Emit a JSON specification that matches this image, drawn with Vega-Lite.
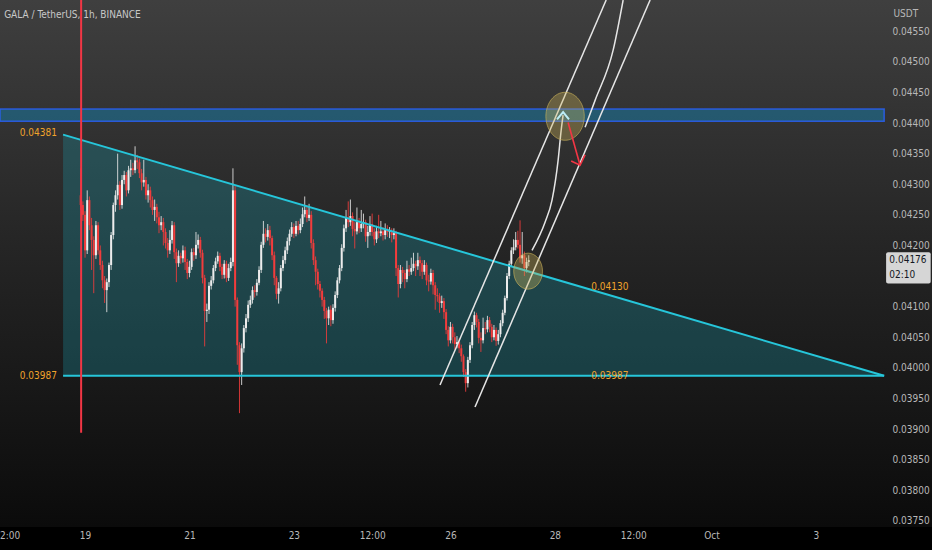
{
  "$schema": "https://vega.github.io/schema/vega-lite/v6.json",
  "width": 932,
  "height": 527,
  "autosize": "none",
  "padding": {"left": 0, "top": 0, "right": 0, "bottom": 23},
  "background": "#000000",
  "config": {
    "view": {"stroke": null},
    "scale": {"continuousPadding": 0},
    "axis": {"grid": false, "ticks": false, "domain": false, "labelColor": "#b8b8b8", "zindex": 2, "labelOverlap": false, "labelFlush": false},
    "axisY": {"labelOverlap": false, "labelFlush": false, "labelBound": false, "tickCount": 40}
  },
  "datasets": {
    "candles": [
      {"t":-2,"o":0.04282,"h":0.04326,"l":0.04258,"c":0.04266},
      {"t":-1,"o":0.04266,"h":0.04272,"l":0.04240,"c":0.04250},
      {"t":0,"o":0.04250,"h":0.04256,"l":0.04180,"c":0.04192},
      {"t":1,"o":0.04192,"h":0.04290,"l":0.04186,"c":0.04274},
      {"t":2,"o":0.04274,"h":0.04280,"l":0.04225,"c":0.04233},
      {"t":3,"o":0.04233,"h":0.04245,"l":0.04160,"c":0.04209},
      {"t":4,"o":0.04209,"h":0.04215,"l":0.04122,"c":0.04184},
      {"t":5,"o":0.04184,"h":0.04240,"l":0.04178,"c":0.04233},
      {"t":6,"o":0.04233,"h":0.04238,"l":0.04185,"c":0.04192},
      {"t":7,"o":0.04192,"h":0.04200,"l":0.04160,"c":0.04168},
      {"t":8,"o":0.04168,"h":0.04175,"l":0.04130,"c":0.04143},
      {"t":9,"o":0.04143,"h":0.04150,"l":0.04106,"c":0.04127},
      {"t":10,"o":0.04127,"h":0.04146,"l":0.04091,"c":0.04140},
      {"t":11,"o":0.04140,"h":0.04172,"l":0.04132,"c":0.04168},
      {"t":12,"o":0.04168,"h":0.04222,"l":0.04160,"c":0.04217},
      {"t":13,"o":0.04217,"h":0.04270,"l":0.04210,"c":0.04266},
      {"t":14,"o":0.04266,"h":0.04290,"l":0.04255,"c":0.04282},
      {"t":15,"o":0.04282,"h":0.04350,"l":0.04275,"c":0.04299},
      {"t":16,"o":0.04299,"h":0.04305,"l":0.04258,"c":0.04266},
      {"t":17,"o":0.04266,"h":0.04315,"l":0.04260,"c":0.04307},
      {"t":18,"o":0.04307,"h":0.04322,"l":0.04300,"c":0.04315},
      {"t":19,"o":0.04315,"h":0.04320,"l":0.04280,"c":0.04290},
      {"t":20,"o":0.04290,"h":0.04330,"l":0.04285,"c":0.04323},
      {"t":21,"o":0.04323,"h":0.04340,"l":0.04312,"c":0.04326},
      {"t":22,"o":0.04326,"h":0.04335,"l":0.04315,"c":0.04323},
      {"t":23,"o":0.04323,"h":0.04362,"l":0.04318,"c":0.04339},
      {"t":24,"o":0.04339,"h":0.04348,"l":0.04325,"c":0.04336},
      {"t":25,"o":0.04336,"h":0.04342,"l":0.04310,"c":0.04318},
      {"t":26,"o":0.04318,"h":0.04325,"l":0.04290,"c":0.04303},
      {"t":27,"o":0.04303,"h":0.04340,"l":0.04296,"c":0.04307},
      {"t":28,"o":0.04307,"h":0.04312,"l":0.04275,"c":0.04282},
      {"t":29,"o":0.04282,"h":0.04300,"l":0.04270,"c":0.04290},
      {"t":30,"o":0.04290,"h":0.04296,"l":0.04262,"c":0.04274},
      {"t":31,"o":0.04274,"h":0.04280,"l":0.04250,"c":0.04258},
      {"t":32,"o":0.04258,"h":0.04275,"l":0.04240,"c":0.04263},
      {"t":33,"o":0.04263,"h":0.04268,"l":0.04236,"c":0.04246},
      {"t":34,"o":0.04246,"h":0.04255,"l":0.04220,"c":0.04233},
      {"t":35,"o":0.04233,"h":0.04248,"l":0.04225,"c":0.04238},
      {"t":36,"o":0.04238,"h":0.04245,"l":0.04200,"c":0.04222},
      {"t":37,"o":0.04222,"h":0.04228,"l":0.04195,"c":0.04204},
      {"t":38,"o":0.04204,"h":0.04212,"l":0.04180,"c":0.04192},
      {"t":39,"o":0.04192,"h":0.04225,"l":0.04186,"c":0.04209},
      {"t":40,"o":0.04209,"h":0.04240,"l":0.04203,"c":0.04233},
      {"t":41,"o":0.04233,"h":0.04238,"l":0.04178,"c":0.04189},
      {"t":42,"o":0.04189,"h":0.04195,"l":0.04140,"c":0.04171},
      {"t":43,"o":0.04171,"h":0.04192,"l":0.04165,"c":0.04183},
      {"t":44,"o":0.04183,"h":0.04188,"l":0.04170,"c":0.04179},
      {"t":45,"o":0.04179,"h":0.04200,"l":0.04172,"c":0.04192},
      {"t":46,"o":0.04192,"h":0.04198,"l":0.04160,"c":0.04173},
      {"t":47,"o":0.04173,"h":0.04178,"l":0.04145,"c":0.04155},
      {"t":48,"o":0.04155,"h":0.04175,"l":0.04148,"c":0.04165},
      {"t":49,"o":0.04165,"h":0.04195,"l":0.04160,"c":0.04189},
      {"t":50,"o":0.04189,"h":0.04196,"l":0.04175,"c":0.04184},
      {"t":51,"o":0.04184,"h":0.04222,"l":0.04178,"c":0.04201},
      {"t":52,"o":0.04201,"h":0.04218,"l":0.04195,"c":0.04209},
      {"t":53,"o":0.04209,"h":0.04214,"l":0.04180,"c":0.04188},
      {"t":54,"o":0.04188,"h":0.04193,"l":0.04138,"c":0.04147},
      {"t":55,"o":0.04147,"h":0.04152,"l":0.04035,"c":0.04093},
      {"t":56,"o":0.04093,"h":0.04105,"l":0.04075,"c":0.04095},
      {"t":57,"o":0.04095,"h":0.04140,"l":0.04088,"c":0.04134},
      {"t":58,"o":0.04134,"h":0.04150,"l":0.04128,"c":0.04143},
      {"t":59,"o":0.04143,"h":0.04168,"l":0.04138,"c":0.04163},
      {"t":60,"o":0.04163,"h":0.04180,"l":0.04158,"c":0.04174},
      {"t":61,"o":0.04174,"h":0.04190,"l":0.04170,"c":0.04183},
      {"t":62,"o":0.04183,"h":0.04188,"l":0.04158,"c":0.04165},
      {"t":63,"o":0.04165,"h":0.04170,"l":0.04145,"c":0.04152},
      {"t":64,"o":0.04152,"h":0.04176,"l":0.04146,"c":0.04170},
      {"t":65,"o":0.04170,"h":0.04175,"l":0.04140,"c":0.04147},
      {"t":66,"o":0.04147,"h":0.04170,"l":0.04142,"c":0.04163},
      {"t":67,"o":0.04163,"h":0.04180,"l":0.04158,"c":0.04173},
      {"t":68,"o":0.04173,"h":0.04326,"l":0.04166,"c":0.04290},
      {"t":69,"o":0.04290,"h":0.04297,"l":0.04100,"c":0.04111},
      {"t":70,"o":0.04111,"h":0.04115,"l":0.04005,"c":0.04037},
      {"t":71,"o":0.04037,"h":0.04042,"l":0.03926,"c":0.03993},
      {"t":72,"o":0.03993,"h":0.04040,"l":0.03972,"c":0.04032},
      {"t":73,"o":0.04032,"h":0.04070,"l":0.04025,"c":0.04065},
      {"t":74,"o":0.04065,"h":0.04088,"l":0.04058,"c":0.04081},
      {"t":75,"o":0.04081,"h":0.04110,"l":0.04075,"c":0.04103},
      {"t":76,"o":0.04103,"h":0.04118,"l":0.04098,"c":0.04111},
      {"t":77,"o":0.04111,"h":0.04133,"l":0.04105,"c":0.04127},
      {"t":78,"o":0.04127,"h":0.04135,"l":0.04115,"c":0.04124},
      {"t":79,"o":0.04124,"h":0.04145,"l":0.04118,"c":0.04139},
      {"t":80,"o":0.04139,"h":0.04166,"l":0.04135,"c":0.04160},
      {"t":81,"o":0.04160,"h":0.04206,"l":0.04155,"c":0.04201},
      {"t":82,"o":0.04201,"h":0.04240,"l":0.04196,"c":0.04219},
      {"t":83,"o":0.04219,"h":0.04228,"l":0.04205,"c":0.04214},
      {"t":84,"o":0.04214,"h":0.04235,"l":0.04208,"c":0.04225},
      {"t":85,"o":0.04225,"h":0.04232,"l":0.04200,"c":0.04212},
      {"t":86,"o":0.04212,"h":0.04216,"l":0.04176,"c":0.04184},
      {"t":87,"o":0.04184,"h":0.04190,"l":0.04135,"c":0.04147},
      {"t":88,"o":0.04147,"h":0.04150,"l":0.04112,"c":0.04121},
      {"t":89,"o":0.04121,"h":0.04140,"l":0.04105,"c":0.04130},
      {"t":90,"o":0.04130,"h":0.04168,"l":0.04125,"c":0.04163},
      {"t":91,"o":0.04163,"h":0.04183,"l":0.04158,"c":0.04176},
      {"t":92,"o":0.04176,"h":0.04198,"l":0.04170,"c":0.04192},
      {"t":93,"o":0.04192,"h":0.04213,"l":0.04186,"c":0.04207},
      {"t":94,"o":0.04207,"h":0.04226,"l":0.04200,"c":0.04219},
      {"t":95,"o":0.04219,"h":0.04238,"l":0.04214,"c":0.04230},
      {"t":96,"o":0.04230,"h":0.04236,"l":0.04212,"c":0.04219},
      {"t":97,"o":0.04219,"h":0.04240,"l":0.04215,"c":0.04232},
      {"t":98,"o":0.04232,"h":0.04240,"l":0.04218,"c":0.04225},
      {"t":99,"o":0.04225,"h":0.04244,"l":0.04220,"c":0.04235},
      {"t":100,"o":0.04235,"h":0.04262,"l":0.04230,"c":0.04251},
      {"t":101,"o":0.04251,"h":0.04280,"l":0.04246,"c":0.04258},
      {"t":102,"o":0.04258,"h":0.04266,"l":0.04238,"c":0.04245},
      {"t":103,"o":0.04245,"h":0.04268,"l":0.04240,"c":0.04250},
      {"t":104,"o":0.04250,"h":0.04256,"l":0.04195,"c":0.04204},
      {"t":105,"o":0.04204,"h":0.04210,"l":0.04168,"c":0.04176},
      {"t":106,"o":0.04176,"h":0.04182,"l":0.04135,"c":0.04157},
      {"t":107,"o":0.04157,"h":0.04162,"l":0.04128,"c":0.04137},
      {"t":108,"o":0.04137,"h":0.04142,"l":0.04115,"c":0.04126},
      {"t":109,"o":0.04126,"h":0.04130,"l":0.04100,"c":0.04111},
      {"t":110,"o":0.04111,"h":0.04116,"l":0.04080,"c":0.04093},
      {"t":111,"o":0.04093,"h":0.04098,"l":0.04040,"c":0.04081},
      {"t":112,"o":0.04081,"h":0.04100,"l":0.04070,"c":0.04095},
      {"t":113,"o":0.04095,"h":0.04102,"l":0.04068,"c":0.04078},
      {"t":114,"o":0.04078,"h":0.04104,"l":0.04072,"c":0.04098},
      {"t":115,"o":0.04098,"h":0.04125,"l":0.04092,"c":0.04119},
      {"t":116,"o":0.04119,"h":0.04148,"l":0.04114,"c":0.04143},
      {"t":117,"o":0.04143,"h":0.04168,"l":0.04138,"c":0.04163},
      {"t":118,"o":0.04163,"h":0.04202,"l":0.04158,"c":0.04196},
      {"t":119,"o":0.04196,"h":0.04234,"l":0.04190,"c":0.04228},
      {"t":120,"o":0.04228,"h":0.04258,"l":0.04222,"c":0.04245},
      {"t":121,"o":0.04245,"h":0.04272,"l":0.04230,"c":0.04238},
      {"t":122,"o":0.04238,"h":0.04275,"l":0.04232,"c":0.04248},
      {"t":123,"o":0.04248,"h":0.04254,"l":0.04215,"c":0.04227},
      {"t":124,"o":0.04227,"h":0.04238,"l":0.04195,"c":0.04223},
      {"t":125,"o":0.04223,"h":0.04262,"l":0.04218,"c":0.04238},
      {"t":126,"o":0.04238,"h":0.04245,"l":0.04220,"c":0.04228},
      {"t":127,"o":0.04228,"h":0.04258,"l":0.04222,"c":0.04235},
      {"t":128,"o":0.04235,"h":0.04252,"l":0.04228,"c":0.04238},
      {"t":129,"o":0.04238,"h":0.04242,"l":0.04206,"c":0.04215},
      {"t":130,"o":0.04215,"h":0.04232,"l":0.04196,"c":0.04222},
      {"t":131,"o":0.04222,"h":0.04248,"l":0.04216,"c":0.04235},
      {"t":132,"o":0.04235,"h":0.04252,"l":0.04215,"c":0.04222},
      {"t":133,"o":0.04222,"h":0.04228,"l":0.04200,"c":0.04210},
      {"t":134,"o":0.04210,"h":0.04232,"l":0.04204,"c":0.04223},
      {"t":135,"o":0.04223,"h":0.04250,"l":0.04212,"c":0.04220},
      {"t":136,"o":0.04220,"h":0.04240,"l":0.04215,"c":0.04223},
      {"t":137,"o":0.04223,"h":0.04230,"l":0.04208,"c":0.04217},
      {"t":138,"o":0.04217,"h":0.04236,"l":0.04210,"c":0.04225},
      {"t":139,"o":0.04225,"h":0.04233,"l":0.04214,"c":0.04222},
      {"t":140,"o":0.04222,"h":0.04230,"l":0.04212,"c":0.04223},
      {"t":141,"o":0.04223,"h":0.04228,"l":0.04205,"c":0.04217},
      {"t":142,"o":0.04217,"h":0.04228,"l":0.04210,"c":0.04220},
      {"t":143,"o":0.04220,"h":0.04224,"l":0.04150,"c":0.04163},
      {"t":144,"o":0.04163,"h":0.04168,"l":0.04115,"c":0.04137},
      {"t":145,"o":0.04137,"h":0.04168,"l":0.04130,"c":0.04160},
      {"t":146,"o":0.04160,"h":0.04165,"l":0.04140,"c":0.04155},
      {"t":147,"o":0.04155,"h":0.04160,"l":0.04130,"c":0.04145},
      {"t":148,"o":0.04145,"h":0.04175,"l":0.04140,"c":0.04161},
      {"t":149,"o":0.04161,"h":0.04168,"l":0.04150,"c":0.04157},
      {"t":150,"o":0.04157,"h":0.04180,"l":0.04152,"c":0.04163},
      {"t":151,"o":0.04163,"h":0.04188,"l":0.04158,"c":0.04170},
      {"t":152,"o":0.04170,"h":0.04175,"l":0.04150,"c":0.04166},
      {"t":153,"o":0.04166,"h":0.04188,"l":0.04160,"c":0.04176},
      {"t":154,"o":0.04176,"h":0.04182,"l":0.04150,"c":0.04171},
      {"t":155,"o":0.04171,"h":0.04176,"l":0.04145,"c":0.04157},
      {"t":156,"o":0.04157,"h":0.04176,"l":0.04152,"c":0.04168},
      {"t":157,"o":0.04168,"h":0.04172,"l":0.04135,"c":0.04143},
      {"t":158,"o":0.04143,"h":0.04152,"l":0.04125,"c":0.04141},
      {"t":159,"o":0.04141,"h":0.04162,"l":0.04136,"c":0.04155},
      {"t":160,"o":0.04155,"h":0.04160,"l":0.04120,"c":0.04135},
      {"t":161,"o":0.04135,"h":0.04140,"l":0.04095,"c":0.04119},
      {"t":162,"o":0.04119,"h":0.04130,"l":0.04108,"c":0.04117},
      {"t":163,"o":0.04117,"h":0.04122,"l":0.04090,"c":0.04106},
      {"t":164,"o":0.04106,"h":0.04118,"l":0.04098,"c":0.04109},
      {"t":165,"o":0.04109,"h":0.04114,"l":0.04080,"c":0.04091},
      {"t":166,"o":0.04091,"h":0.04096,"l":0.04055,"c":0.04062},
      {"t":167,"o":0.04062,"h":0.04068,"l":0.04035,"c":0.04045},
      {"t":168,"o":0.04045,"h":0.04075,"l":0.04040,"c":0.04067},
      {"t":169,"o":0.04067,"h":0.04072,"l":0.04040,"c":0.04050},
      {"t":170,"o":0.04050,"h":0.04058,"l":0.04030,"c":0.04039},
      {"t":171,"o":0.04039,"h":0.04052,"l":0.04032,"c":0.04042},
      {"t":172,"o":0.04042,"h":0.04048,"l":0.04024,"c":0.04032},
      {"t":173,"o":0.04032,"h":0.04038,"l":0.04010,"c":0.04019},
      {"t":174,"o":0.04019,"h":0.04022,"l":0.03985,"c":0.03993},
      {"t":175,"o":0.03993,"h":0.03998,"l":0.03961,"c":0.03975},
      {"t":176,"o":0.03975,"h":0.04018,"l":0.03968,"c":0.04013},
      {"t":177,"o":0.04013,"h":0.04042,"l":0.04008,"c":0.04037},
      {"t":178,"o":0.04037,"h":0.04075,"l":0.04032,"c":0.04070},
      {"t":179,"o":0.04070,"h":0.04092,"l":0.04062,"c":0.04086},
      {"t":180,"o":0.04086,"h":0.04090,"l":0.04066,"c":0.04075},
      {"t":181,"o":0.04075,"h":0.04080,"l":0.04040,"c":0.04049},
      {"t":182,"o":0.04049,"h":0.04058,"l":0.04026,"c":0.04045},
      {"t":183,"o":0.04045,"h":0.04082,"l":0.04040,"c":0.04065},
      {"t":184,"o":0.04065,"h":0.04075,"l":0.04055,"c":0.04063},
      {"t":185,"o":0.04063,"h":0.04085,"l":0.04058,"c":0.04078},
      {"t":186,"o":0.04078,"h":0.04083,"l":0.04058,"c":0.04067},
      {"t":187,"o":0.04067,"h":0.04072,"l":0.04042,"c":0.04050},
      {"t":188,"o":0.04050,"h":0.04070,"l":0.04045,"c":0.04062},
      {"t":189,"o":0.04062,"h":0.04066,"l":0.04036,"c":0.04044},
      {"t":190,"o":0.04044,"h":0.04062,"l":0.04038,"c":0.04055},
      {"t":191,"o":0.04055,"h":0.04078,"l":0.04050,"c":0.04073},
      {"t":192,"o":0.04073,"h":0.04095,"l":0.04068,"c":0.04090},
      {"t":193,"o":0.04090,"h":0.04118,"l":0.04086,"c":0.04114},
      {"t":194,"o":0.04114,"h":0.04155,"l":0.04110,"c":0.04150},
      {"t":195,"o":0.04150,"h":0.04175,"l":0.04145,"c":0.04170},
      {"t":196,"o":0.04170,"h":0.04197,"l":0.04165,"c":0.04192},
      {"t":197,"o":0.04192,"h":0.04210,"l":0.04186,"c":0.04197},
      {"t":198,"o":0.04197,"h":0.04222,"l":0.04192,"c":0.04209},
      {"t":199,"o":0.04209,"h":0.04224,"l":0.04195,"c":0.04201},
      {"t":200,"o":0.04201,"h":0.04241,"l":0.04172,"c":0.04179},
      {"t":201,"o":0.04179,"h":0.04222,"l":0.04170,"c":0.04184},
      {"t":202,"o":0.04184,"h":0.04190,"l":0.04150,"c":0.04163},
      {"t":203,"o":0.04163,"h":0.04180,"l":0.04156,"c":0.04173},
      {"t":204,"o":0.04173,"h":0.04184,"l":0.04166,"c":0.04176}
    ],
    "drawLines": [
      {"g":"A","t":163.2,"p":0.03972},
      {"g":"A","t":239.6,"p":0.04601},
      {"g":"B","t":179.3,"p":0.03936},
      {"g":"B","t":259.8,"p":0.04601},
      {"g":"S","t":205.5,"p":0.04192},
      {"g":"S","t":211.5,"p":0.04238},
      {"g":"S","t":214.7,"p":0.04274},
      {"g":"S","t":217.5,"p":0.04339},
      {"g":"S","t":218.9,"p":0.04388},
      {"g":"S","t":219.8,"p":0.04413},
      {"g":"C","t":229.9,"p":0.04393},
      {"g":"C","t":234.5,"p":0.04437},
      {"g":"C","t":242.8,"p":0.04519},
      {"g":"C","t":247.4,"p":0.04601}
    ]
  },
  "layer": [
    {
      "data": {"values": [{}]},
      "mark": {
        "type": "rect",
        "color": {
          "gradient": "linear", "x1": 0, "y1": 0, "x2": 0, "y2": 1,
          "stops": [
            {"offset": 0, "color": "#3f3f3f"},
            {"offset": 0.45, "color": "#262626"},
            {"offset": 1, "color": "#0b0b0b"}
          ]
        }
      },
      "encoding": {}
    },
    {
      "data": {"name": "candles"},
      "mark": {"type": "rule", "strokeWidth": 1, "opacity": 0},
      "encoding": {
        "x": {
          "field": "t", "type": "quantitative",
          "scale": {"domain": [-39.1, 389.4], "nice": false, "zero": false, "padding": 0},
          "axis": {
            "values": [-36, 0, 48, 96, 132, 168, 216, 252, 288, 336],
            "labelExpr": "datum.value == -36 ? '12:00' : datum.value == 0 ? '19' : datum.value == 48 ? '21' : datum.value == 96 ? '23' : datum.value == 132 ? '12:00' : datum.value == 168 ? '26' : datum.value == 216 ? '28' : datum.value == 252 ? '12:00' : datum.value == 288 ? 'Oct' : '3'",
            "title": null, "orient": "bottom", "grid": false, "ticks": false, "domain": false, "zindex": 2,
            "tickCount": 40,
            "labelFlush": false, "labelOverlap": false, "labelBound": false,
            "labelColor": "#b8b8b8", "labelFontSize": 10, "labelPadding": 3,
            "labelFont": "Liberation Sans Narrow, DejaVu Sans Condensed, Roboto, sans-serif"
          }
        },
        "y": {
          "field": "l", "type": "quantitative",
          "scale": {"domain": [0.0374, 0.04601], "nice": false, "zero": false, "padding": 0},
          "axis": {
            "orient": "right", "offset": -48, "zindex": 2,
            "values": [0.0375, 0.038, 0.0385, 0.039, 0.0395, 0.04, 0.0405, 0.041, 0.042, 0.0425, 0.043, 0.0435, 0.044, 0.0445, 0.045, 0.0455],
            "tickCount": 40,
            "format": ".5f",
            "title": "USDT", "titleAngle": 0, "titleAlign": "left", "titleBaseline": "middle",
            "titleX": 9, "titleY": 13, "titleFontSize": 10, "titleFontWeight": "normal", "titleColor": "#b8b8b8",
            "titleFont": "Liberation Sans Narrow, DejaVu Sans Condensed, Roboto, sans-serif",
            "grid": false, "ticks": false, "domain": false, "labelFlush": false, "labelOverlap": false, "labelBound": false,
            "labelAlign": "left", "labelBaseline": "middle", "labelPadding": 8, "labelColor": "#b8b8b8", "labelFontSize": 10,
            "labelFont": "Liberation Sans Narrow, DejaVu Sans Condensed, Roboto, sans-serif"
          }
        },
        "y2": {"field": "h"}
      }
    },
    {
      "data": {"values": [{"t1": -39.1, "t2": 367.4, "p1": 0.04403, "p2": 0.04423}]},
      "mark": {"type": "rect", "fill": "#1487b8", "fillOpacity": 0.45, "stroke": "#2962ff", "strokeOpacity": 0.8, "strokeWidth": 1.5, "clip": true},
      "encoding": {
        "x": {"field": "t1", "type": "quantitative"},
        "x2": {"field": "t2"},
        "y": {"field": "p1", "type": "quantitative"},
        "y2": {"field": "p2"}
      }
    },
    {
      "data": {"values": [
        {"t": -10.1, "top": 0.04381, "bot": 0.03987},
        {"t": 367.4, "top": 0.03987, "bot": 0.03987}
      ]},
      "mark": {"type": "area", "color": "#1aa3b3", "opacity": 0.28},
      "encoding": {
        "x": {"field": "t", "type": "quantitative"},
        "y": {"field": "top", "type": "quantitative"},
        "y2": {"field": "bot"}
      }
    },
    {
      "data": {"name": "candles"},
      "mark": {"type": "rule", "strokeWidth": 1, "opacity": 0.85},
      "encoding": {
        "x": {"field": "t", "type": "quantitative"},
        "y": {"field": "l", "type": "quantitative"},
        "y2": {"field": "h"},
        "color": {"condition": {"test": "datum.c >= datum.o", "value": "#e8e8e8"}, "value": "#f23c3c"}
      }
    },
    {
      "data": {"name": "candles"},
      "mark": {"type": "bar", "size": 2},
      "encoding": {
        "x": {"field": "t", "type": "quantitative"},
        "y": {"field": "o", "type": "quantitative"},
        "y2": {"field": "c"},
        "color": {"condition": {"test": "datum.c >= datum.o", "value": "#ececec"}, "value": "#f23c3c"}
      }
    },
    {
      "data": {"values": [
        {"g": "top", "t": -10.1, "p": 0.04381},
        {"g": "top", "t": 367.4, "p": 0.03987},
        {"g": "bottom", "t": -10.1, "p": 0.03987},
        {"g": "bottom", "t": 367.4, "p": 0.03987}
      ]},
      "mark": {"type": "line", "color": "#26c6da", "strokeWidth": 2},
      "encoding": {
        "x": {"field": "t", "type": "quantitative"},
        "y": {"field": "p", "type": "quantitative"},
        "detail": {"field": "g"}
      }
    },
    {
      "data": {"name": "drawLines"},
      "mark": {"type": "line", "color": "#e6e6e6", "strokeWidth": 1.5, "interpolate": "monotone", "clip": true},
      "encoding": {
        "x": {"field": "t", "type": "quantitative"},
        "y": {"field": "p", "type": "quantitative"},
        "detail": {"field": "g"}
      }
    },
    {
      "data": {"values": [{"t": 220.7, "p": 0.04411}]},
      "mark": {"type": "point", "shape": "M -0.8 0 A 0.8 1 0 1 0 0.8 0 A 0.8 1 0 1 0 -0.8 0 Z", "size": 2304, "filled": true, "fill": "#cdb45a", "fillOpacity": 0.35, "stroke": "#cdb45a", "strokeOpacity": 0.6, "strokeWidth": 1},
      "encoding": {
        "x": {"field": "t", "type": "quantitative"},
        "y": {"field": "p", "type": "quantitative"}
      }
    },
    {
      "data": {"values": [{"t": 203.7, "p": 0.04158}]},
      "mark": {"type": "point", "shape": "M -0.8 0 A 0.8 1 0 1 0 0.8 0 A 0.8 1 0 1 0 -0.8 0 Z", "size": 1296, "filled": true, "fill": "#cdb45a", "fillOpacity": 0.35, "stroke": "#cdb45a", "strokeOpacity": 0.6, "strokeWidth": 1},
      "encoding": {
        "x": {"field": "t", "type": "quantitative"},
        "y": {"field": "p", "type": "quantitative"}
      }
    },
    {
      "data": {"values": [
        {"g": "head", "t": 217.0, "p": 0.04406},
        {"g": "head", "t": 219.8, "p": 0.04418},
        {"g": "head", "t": 222.5, "p": 0.04406}
      ]},
      "mark": {"type": "line", "color": "#bdeef5", "strokeWidth": 2},
      "encoding": {
        "x": {"field": "t", "type": "quantitative"},
        "y": {"field": "p", "type": "quantitative"},
        "detail": {"field": "g"}
      }
    },
    {
      "data": {"values": [
        {"g": "shaft", "t": 222.1, "p": 0.04401},
        {"g": "shaft", "t": 227.6, "p": 0.04331},
        {"g": "head", "t": 223.5, "p": 0.04338},
        {"g": "head", "t": 227.6, "p": 0.04331},
        {"g": "head", "t": 229.9, "p": 0.04348}
      ]},
      "mark": {"type": "line", "color": "#f23645", "strokeWidth": 1.6},
      "encoding": {
        "x": {"field": "t", "type": "quantitative"},
        "y": {"field": "p", "type": "quantitative"},
        "detail": {"field": "g"}
      }
    },
    {
      "data": {"values": [
        {"t": -12.9, "p": 0.04384, "s": "0.04381"},
        {"t": -12.9, "p": 0.03987, "s": "0.03987"}
      ]},
      "mark": {"type": "text", "align": "right", "baseline": "middle", "color": "#f0a32c", "fontSize": 10, "font": "Liberation Sans Narrow, DejaVu Sans Condensed, Roboto, sans-serif"},
      "encoding": {
        "x": {"field": "t", "type": "quantitative"},
        "y": {"field": "p", "type": "quantitative"},
        "text": {"field": "s"}
      }
    },
    {
      "data": {"values": [
        {"t": 232.7, "p": 0.04132, "s": "0.04130"},
        {"t": 232.7, "p": 0.03987, "s": "0.03987"}
      ]},
      "mark": {"type": "text", "align": "left", "baseline": "middle", "color": "#f0a32c", "fontSize": 10, "font": "Liberation Sans Narrow, DejaVu Sans Condensed, Roboto, sans-serif"},
      "encoding": {
        "x": {"field": "t", "type": "quantitative"},
        "y": {"field": "p", "type": "quantitative"},
        "text": {"field": "s"}
      }
    },
    {
      "data": {"values": [{"t1": 368.3, "t2": 388.8, "p1": 0.04138, "p2": 0.04189}]},
      "mark": {"type": "rect", "fill": "#d6d6d6", "cornerRadius": 2},
      "encoding": {
        "x": {"field": "t1", "type": "quantitative"},
        "x2": {"field": "t2"},
        "y": {"field": "p1", "type": "quantitative"},
        "y2": {"field": "p2"}
      }
    },
    {
      "data": {"values": [
        {"t": 369.8, "p": 0.04176, "s": "0.04176"},
        {"t": 369.8, "p": 0.04152, "s": "02:10"}
      ]},
      "mark": {"type": "text", "align": "left", "baseline": "middle", "color": "#131722", "fontSize": 10, "font": "Liberation Sans Narrow, DejaVu Sans Condensed, Roboto, sans-serif"},
      "encoding": {
        "x": {"field": "t", "type": "quantitative"},
        "y": {"field": "p", "type": "quantitative"},
        "text": {"field": "s"}
      }
    },
    {
      "data": {"values": [{"t": -37.2, "p": 0.04576, "s": "GALA / TetherUS, 1h, BINANCE"}]},
      "mark": {"type": "text", "align": "left", "baseline": "middle", "color": "#c8c8c8", "fontSize": 10, "font": "Liberation Sans Narrow, DejaVu Sans Condensed, Roboto, sans-serif"},
      "encoding": {
        "x": {"field": "t", "type": "quantitative"},
        "y": {"field": "p", "type": "quantitative"},
        "text": {"field": "s"}
      }
    },
    {
      "data": {"values": [{"t": -1.8, "p1": 0.03894, "p2": 0.04601}]},
      "mark": {"type": "rule", "color": "#f23645", "strokeWidth": 2},
      "encoding": {
        "x": {"field": "t", "type": "quantitative"},
        "y": {"field": "p1", "type": "quantitative"},
        "y2": {"field": "p2"}
      }
    }
  ]
}
